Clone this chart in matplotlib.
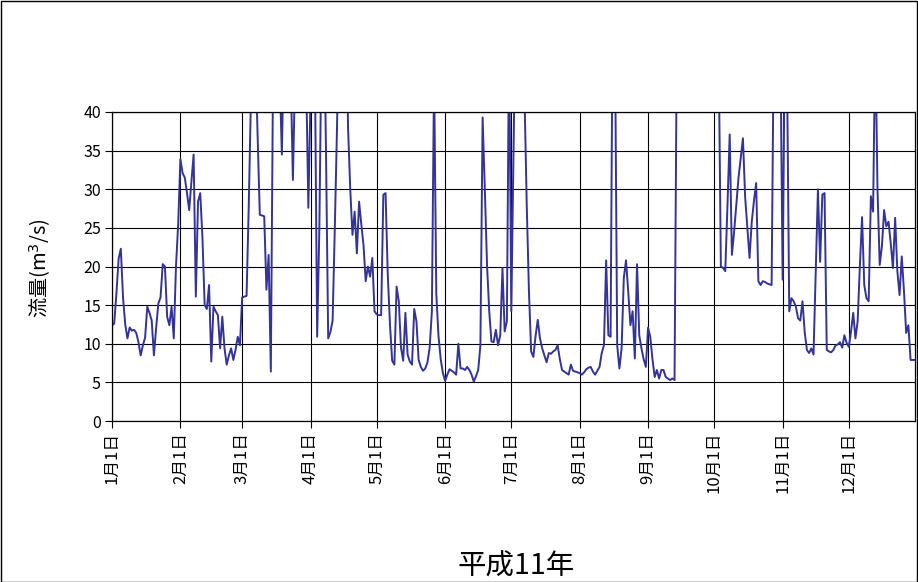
import matplotlib
matplotlib.use("Agg")
import matplotlib.pyplot as plt
from matplotlib.patches import Rectangle
import numpy as np
import pandas as pd

plt.rcParams['font.family'] = ['Noto Sans CJK JP', 'DejaVu Sans']

# Daily discharge (m3/s), Heisei 11 (1999). Values above 40 are off-scale estimates;
# NaN = off-scale days whose values cannot be read from the chart.
jan = [12.4, 12.6, 16.5, 21.0, 22.3, 16.0, 12.5, 10.7, 12.1, 11.7,
       11.8, 11.4, 10.2, 8.5, 9.8, 10.8, 14.8, 14.0, 13.0, 8.5,
       12.0, 15.2, 16.0, 20.3, 20.0, 13.5, 12.4, 14.8, 10.7, 20.0, 25.5]
feb = [33.9, 32.1, 31.5, 29.5, 27.3, 31.0, 34.5, 16.1, 28.4, 29.5,
       23.7, 15.0, 14.5, 17.6, 7.7, 14.8, 14.2, 13.7, 9.4, 13.5,
       9.4, 7.3, 8.5, 9.4, 7.9, 9.2, 10.9, 9.8]
mar = [16.0, 16.1, 16.2, 28.0, 42.0, 52.0, 48.0, 37.0, 26.7, 26.6,
       26.5, 17.0, 21.5, 6.4, 45.0, 60.0, 55.0, 45.0, 34.5, 50.0,
       60.0, 55.0, 45.0, 31.2, 45.0, 60.0, 70.0, 60.0, 50.0, 45.0, 27.6]
apr = [42.0, 55.0, 45.0, 10.9, 25.0, 50.0, 55.0, 35.0, 10.7, 11.5,
       13.0, 25.0, 38.0, 55.0, 65.0, 60.0, 55.0, 38.0, 30.0, 24.1,
       27.1, 21.7, 28.4, 25.5, 22.8, 18.1, 20.0, 18.7, 21.1, 14.2]
may = [13.8, 13.7, 13.7, 29.3, 29.5, 19.0, 12.5, 7.8, 7.3, 17.4,
       15.5, 9.5, 7.8, 14.0, 8.6, 7.7, 7.3, 14.5, 12.9, 7.9,
       7.0, 6.5, 6.8, 7.6, 9.5, 14.2, 45.0, 16.5, 11.0, 8.0, 6.2]
jun = [5.2, 6.0, 6.7, 6.5, 6.3, 6.0, 10.0, 6.8, 6.8, 6.6,
       7.0, 6.6, 6.0, 5.1, 5.8, 6.6, 9.8, 39.3, 30.0, 20.2,
       14.2, 10.3, 10.2, 11.8, 9.8, 11.1, 19.8, 11.6, 12.9, 50.0]
jul = [14.2, 35.0, 55.0, 65.0, 60.0, 50.0, 42.0, 28.0, 16.8, 9.0,
       8.3, 11.0, 13.1, 10.7, 9.4, 8.5, 7.6, 8.8, 8.7, 9.0,
       9.2, 9.8, 8.0, 6.6, 6.4, 6.2, 6.0, 7.3, 6.5, 6.4, 6.3]
aug = [6.2, 6.0, 6.3, 6.7, 6.9, 7.0, 6.4, 6.0, 6.5, 7.0,
       8.8, 9.8, 20.8, 11.1, 10.9, 55.0, 50.0, 9.8, 6.8, 9.4,
       18.5, 20.8, 16.8, 12.4, 14.2, 8.1, 20.3, 11.1, 9.4, 8.0, 7.0]
sep = [12.1, 10.9, 8.0, 5.7, 6.6, 5.5, 6.6, 6.6, 5.7, 5.5,
       5.3, 5.5, 5.3, 48.0, np.nan, np.nan, np.nan, np.nan, np.nan, np.nan,
       np.nan, np.nan, np.nan, np.nan, np.nan, np.nan, np.nan, np.nan, np.nan, np.nan]
oct_ = [np.nan, np.nan, 48.0, 20.0, 19.8, 19.4, 28.0, 37.1, 21.5, 24.5,
        28.0, 31.5, 34.0, 36.6, 29.0, 25.0, 21.1, 25.8, 28.5, 30.8,
        18.1, 17.6, 18.1, 18.0, 17.8, 17.7, 17.6, 50.0, 60.0, 55.0, 48.0]
nov = [18.3, 50.0, 45.0, 14.2, 15.9, 15.5, 14.8, 13.3, 13.0, 15.5,
       11.5, 9.2, 8.8, 9.4, 8.6, 19.4, 30.0, 20.6, 29.3, 29.5,
       9.2, 9.0, 8.9, 9.2, 9.8, 9.9, 10.2, 9.5, 11.1, 10.1]
dec = [9.6, 11.6, 14.0, 10.7, 12.9, 20.0, 26.4, 17.6, 15.9, 15.5,
       29.1, 27.1, 50.0, 30.0, 20.2, 22.6, 27.3, 25.2, 25.8, 23.0,
       19.8, 26.3, 19.4, 16.3, 21.3, 16.8, 11.4, 12.4, 7.9, 7.9, 7.9]

tick_dates = ['1999-01-01', '1999-02-01', '1999-03-01', '1999-04-01', '1999-05-01', '1999-06-01',
              '1999-07-01', '1999-08-01', '1999-09-01', '1999-10-01', '1999-11-01', '1999-12-01']
tick_labels = ['1月1日', '2月1日', '3月1日', '4月1日', '5月1日', '6月1日',
               '7月1日', '8月1日', '9月1日', '10月1日', '11月1日', '12月1日']
y_ticks = [0, 5, 10, 15, 20, 25, 30, 35, 40]

flow = np.array(jan + feb + mar + apr + may + jun + jul + aug + sep + oct_ + nov + dec, dtype=float)
dates = pd.date_range('1999-01-01', periods=len(flow), freq='D')

W, H = 918, 582
fig = plt.figure(figsize=(W / 100, H / 100), dpi=100)
fig.patch.set_facecolor('white')
ax = fig.add_axes([112 / W, (H - 421) / H, (915 - 112) / W, (421 - 112) / H])

ax.plot(dates, flow, color='#333399', lw=1.4, solid_joinstyle='round')
ax.set_ylim(0, 40)
ax.set_xlim(dates[0], dates[-1])
ax.set_yticks(y_ticks)
ax.set_yticklabels([str(v) for v in y_ticks], fontsize=11.5)
ax.set_xticks(pd.to_datetime(tick_dates))
ax.set_xticklabels(tick_labels, rotation=90, fontsize=12, va='top', ha='center')
ax.grid(True, color='black', lw=0.8)
ax.set_axisbelow(True)
ax.tick_params(axis='both', direction='out', length=5, width=0.8, color='black', pad=3)
for s in ax.spines.values():
    s.set_color('black')
    s.set_linewidth(0.9)

fig.text(40 / W, (H - 268) / H, '流量(m$^3$/s)', rotation=90, ha='center', va='center', fontsize=14.5)
fig.text(516 / W, (H - 567) / H, '平成11年', ha='center', va='center', fontsize=20.5)

fig.patches.append(Rectangle((0.5 / W, 0.5 / H), 1 - 1.5 / W, 1 - 1.5 / H, transform=fig.transFigure,
                             fill=False, edgecolor='black', lw=1.0))

fig.savefig('out.png', dpi=100, facecolor='white')
